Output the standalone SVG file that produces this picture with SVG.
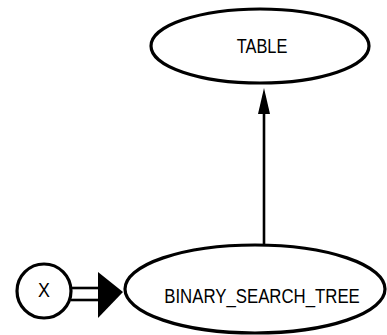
<svg xmlns="http://www.w3.org/2000/svg" width="387" height="335" viewBox="0 0 387 335">
<style>
.node{fill:#fff;stroke:#000;stroke-width:3.2}
.lbl{font-family:"Liberation Sans",Arial,sans-serif;font-size:21px;fill:#000;text-anchor:middle}
.edge{stroke:#000;stroke-width:2.6;fill:none}
</style>
<rect width="387" height="335" fill="#fff"/>
<g id="connectors">
<line class="edge" x1="264" y1="245" x2="264" y2="110"/>
<polygon points="264,88 258,114 270,114" fill="#000"/>
<line class="edge" x1="71" y1="288" x2="100" y2="288"/>
<line class="edge" x1="71" y1="300" x2="100" y2="300"/>
<polygon points="98,272 123,292 98,318" fill="#000"/>
</g>
<g id="node-table">
<ellipse class="node" cx="260" cy="46" rx="109" ry="37"/>
<text class="lbl" transform="translate(262,53) scale(0.78,1)" x="0" y="0">TABLE</text>
</g>
<g id="node-bst">
<ellipse class="node" cx="255" cy="289" rx="130" ry="44"/>
<text class="lbl" transform="translate(262,303) scale(0.8,1)" x="0" y="0">BINARY_SEARCH_TREE</text>
</g>
<g id="node-x">
<circle class="node" cx="44" cy="291" r="27"/>
<text class="lbl" transform="translate(44,297) scale(0.85,1)" x="0" y="0">X</text>
</g>
</svg>
